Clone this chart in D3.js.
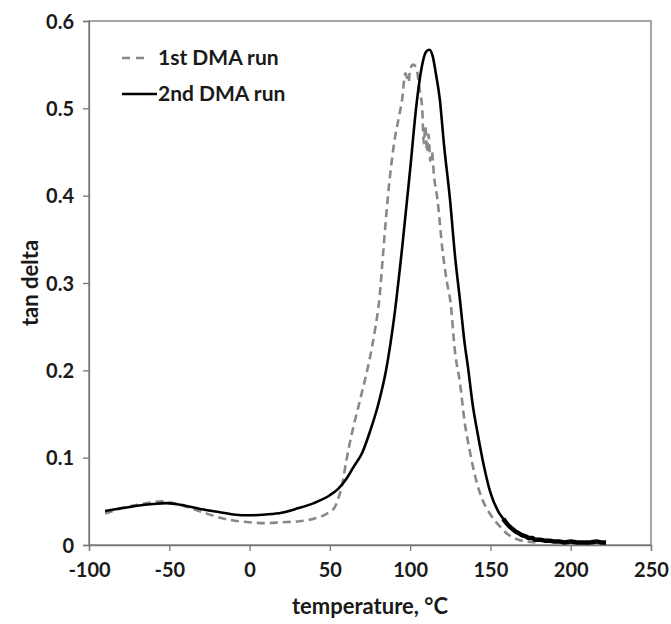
<!DOCTYPE html>
<html>
<head>
<meta charset="utf-8">
<script src="https://cdn.jsdelivr.net/npm/d3@7"></script>
<style>
  body { margin: 0; background: #fff; }
  svg text { font-family: Lato, "Open Sans", sans-serif; font-weight: bold; fill: #1a1a1a; }
</style>
</head>
<body>
<div class="chart"></div>
<script>
// 1st DMA run (dashed gray)
const run1Temp = [-90, -85, -80, -70, -60, -55, -50, -40, -30, -20, -10, 0, 10, 20, 30, 40, 45, 50, 53, 55, 58, 60, 62, 65, 68, 70, 72, 75, 78, 81, 83, 86, 90, 93, 95, 97, 99, 100, 102, 104, 106, 107.5, 108.5, 109.5, 110.5, 111.5, 112.5, 113.5, 115, 117, 120, 123, 125, 128, 131, 134, 137, 141, 145, 150, 156, 161, 166, 172, 178];
const run1Tan = [0.036, 0.039, 0.042, 0.046, 0.049, 0.050, 0.049, 0.044, 0.038, 0.032, 0.028, 0.026, 0.025, 0.026, 0.027, 0.030, 0.033, 0.038, 0.043, 0.052, 0.072, 0.094, 0.113, 0.138, 0.160, 0.175, 0.19, 0.215, 0.245, 0.285, 0.33, 0.396, 0.46, 0.49, 0.51, 0.54, 0.53, 0.545, 0.55, 0.545, 0.52, 0.50, 0.46, 0.48, 0.45, 0.47, 0.44, 0.45, 0.42, 0.396, 0.34, 0.30, 0.28, 0.22, 0.186, 0.14, 0.109, 0.075, 0.052, 0.035, 0.021, 0.012, 0.007, 0.004, 0.003];

// 2nd DMA run (solid black)
const run2Temp = [-90, -80, -70, -60, -52, -40, -30, -20, -10, 0, 10, 20, 30, 40, 50, 55, 60, 65, 70, 75, 80, 85, 90, 95, 100, 104, 107, 110, 112, 114, 116, 118.5, 121, 124.8, 128, 131, 134, 136, 139, 142, 146, 150, 155, 158, 160, 162, 164, 166, 168, 170, 172, 174, 176, 178, 181, 184, 187, 190, 193, 196, 200, 204, 208, 212, 216, 219, 222];
const run2Tan = [0.039, 0.042, 0.045, 0.047, 0.048, 0.045, 0.041, 0.038, 0.035, 0.034, 0.035, 0.037, 0.042, 0.048, 0.057, 0.064, 0.075, 0.09, 0.105, 0.13, 0.16, 0.20, 0.26, 0.34, 0.43, 0.505, 0.545, 0.565, 0.567, 0.56, 0.54, 0.51, 0.46, 0.396, 0.33, 0.281, 0.23, 0.204, 0.16, 0.128, 0.09, 0.06, 0.038, 0.030, 0.025, 0.021, 0.018, 0.015, 0.013, 0.011, 0.010, 0.008, 0.008, 0.006, 0.006, 0.005, 0.005, 0.004, 0.004, 0.003, 0.004, 0.003, 0.003, 0.003, 0.004, 0.003, 0.003];

const xTicks = [-100, -50, 0, 50, 100, 150, 200, 250];
const yTicks = [0, 0.1, 0.2, 0.3, 0.4, 0.5, 0.6];
const seriesNames = ["1st DMA run", "2nd DMA run"];

const width = 671;
const height = 624;
const margin = {top: 21, right: 20, bottom: 79, left: 89};

const svg = d3.select(".chart").append("svg")
    .attr("width", width)
    .attr("height", height);

const x = d3.scaleLinear()
    .domain([-100, 250])
    .range([margin.left, width - margin.right]);

const y = d3.scaleLinear()
    .domain([0, 0.6])
    .range([height - margin.bottom, margin.top]);

const axisColor = "#777";

// plot frame
svg.append("rect")
    .attr("x", x(-100))
    .attr("y", y(0.6))
    .attr("width", x(250) - x(-100))
    .attr("height", y(0) - y(0.6))
    .attr("fill", "none")
    .attr("stroke", axisColor)
    .attr("stroke-width", 1.3);

/* axes */
const xAxis = svg.append("g")
    .attr("transform", `translate(0, ${y(0)})`)
    .call(d3.axisBottom(x).tickValues(xTicks).tickSize(6).tickPadding(12).tickFormat(d => String(d)));

const yAxis = svg.append("g")
    .attr("transform", `translate(${x(-100)}, 0)`)
    .call(d3.axisLeft(y).tickValues(yTicks).tickSize(6).tickPadding(9).tickFormat(d => d === 0 ? "0" : d3.format(".1f")(d)));

[xAxis, yAxis].forEach(a => {
    a.select(".domain").attr("stroke", axisColor).attr("stroke-width", 1.3);
    a.selectAll(".tick line").attr("stroke", axisColor).attr("stroke-width", 1.3);
    a.selectAll("text").style("font-size", "20px").attr("fill", "#1a1a1a");
});
xAxis.selectAll("text").attr("dy", "0.71em");
yAxis.selectAll("text").attr("dy", "0.35em");

// axis titles
svg.append("text")
    .attr("x", (x(-100) + x(250)) / 2)
    .attr("y", 614)
    .attr("text-anchor", "middle")
    .style("font-size", "22px")
    .text("temperature, °C");

svg.append("text")
    .attr("transform", `translate(38, ${(y(0) + y(0.6)) / 2}) rotate(-90)`)
    .attr("text-anchor", "middle")
    .style("font-size", "22px")
    .text("tan delta");

/* lines */
const line = d3.line()
    .x(d => x(d[0]))
    .y(d => y(d[1]))
    .curve(d3.curveMonotoneX);

const run1 = run1Temp.map((t, i) => [t, run1Tan[i]]);
const run2 = run2Temp.map((t, i) => [t, run2Tan[i]]);

svg.append("path")
    .attr("d", line(run1))
    .attr("fill", "none")
    .attr("stroke", "#888")
    .attr("stroke-width", 2.6)
    .attr("stroke-dasharray", "8,5");

svg.append("path")
    .attr("d", line(run2))
    .attr("fill", "none")
    .attr("stroke", "#000")
    .attr("stroke-width", 2.6)
    .attr("stroke-linejoin", "round");

// noisy tail of the 2nd run drawn a bit heavier
svg.append("path")
    .attr("d", line(run2.filter(d => d[0] >= 158)))
    .attr("fill", "none")
    .attr("stroke", "#000")
    .attr("stroke-width", 4.5);

/* legend */
const legend = svg.append("g");
const legendY = [58, 94];

legend.append("line")
    .attr("x1", 122).attr("x2", 150)
    .attr("y1", legendY[0]).attr("y2", legendY[0])
    .attr("stroke", "#888")
    .attr("stroke-width", 2.6)
    .attr("stroke-dasharray", "8,6");

legend.append("line")
    .attr("x1", 122).attr("x2", 157)
    .attr("y1", legendY[1]).attr("y2", legendY[1])
    .attr("stroke", "#000")
    .attr("stroke-width", 2.6);

seriesNames.forEach((name, i) => {
    legend.append("text")
        .attr("x", 158)
        .attr("y", legendY[i])
        .attr("dy", "0.35em")
        .style("font-size", "21px")
        .text(name);
});
</script>
</body>
</html>
